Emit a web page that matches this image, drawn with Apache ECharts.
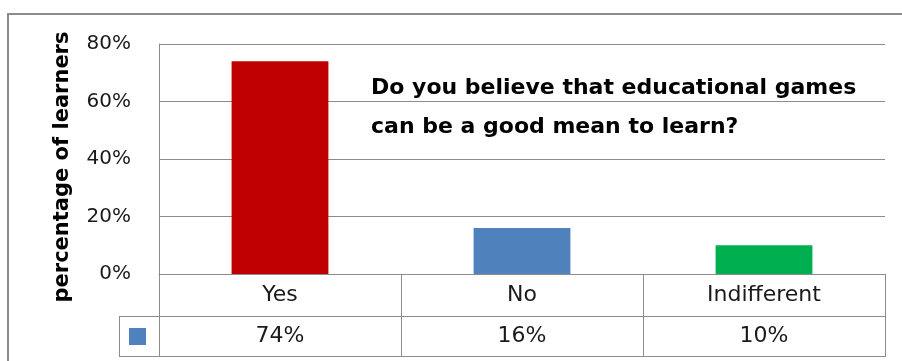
<!DOCTYPE html>
<html><head><meta charset="utf-8">
<script src="https://cdn.jsdelivr.net/npm/echarts@6/dist/echarts.min.js"></script>
<style>html,body{margin:0;padding:0;background:#fff}#c{width:902px;height:361px}</style>
</head><body><div id="c"></div>
<script>
const categories = ['Yes', 'No', 'Indifferent'];
const values = [0.74, 0.16, 0.10];
const barColors = ['#C00000', '#4F81BD', '#00B050'];
const yTickMin = 0, yTickMax = 0.8, yTickStep = 0.2;
const seriesName = 'learners';
const titleLines = ['Do you believe that educational games', 'can be a good mean to learn?'];
const yAxisName = 'percentage of learners';

const FONT = 'DejaVu Sans';
const LINE = '#8c8c8c';
const pct = v => Math.round(v * 100) + '%';
const chart = echarts.init(document.getElementById('c'), null, {renderer: 'canvas'});
const option = {
  animation: false,
  backgroundColor: '#fff',
  title: {
    text: titleLines.join('\n'), left: 371, top: 69, padding: 0,
    textStyle: {fontFamily: FONT, fontWeight: 'bold', fontSize: 22, color: '#000', lineHeight: 39}
  },
  legend: {
    data: [seriesName], left: 129, top: 328, icon: 'rect', itemWidth: 17, itemHeight: 17,
    formatter: () => '', itemGap: 0, padding: 0, selectedMode: false
  },
  grid: {left: 159, right: 17, top: 44, bottom: 87, containLabel: false},
  xAxis: [{
    type: 'category', data: categories, position: 'bottom',
    axisLine: {show: true, lineStyle: {color: LINE, width: 1}},
    axisTick: {show: true, length: 83, interval: 0, lineStyle: {color: LINE}},
    axisLabel: {fontFamily: FONT, fontSize: 22, color: '#1a1a1a', margin: 10}
  }, {
    type: 'category', data: values.map(pct), position: 'bottom', offset: 42,
    axisLine: {show: false}, axisTick: {show: false},
    axisLabel: {fontFamily: FONT, fontSize: 22, color: '#1a1a1a', margin: 9}
  }],
  yAxis: {
    type: 'value', min: yTickMin, max: yTickMax, interval: yTickStep,
    name: yAxisName, nameLocation: 'middle', nameRotate: 90, nameGap: 86,
    nameTextStyle: {fontFamily: FONT, fontWeight: 'bold', fontSize: 21, color: '#000', padding: [0, 16, 0, 0]},
    axisLine: {show: true, lineStyle: {color: LINE}},
    axisTick: {show: false},
    axisLabel: {fontFamily: FONT, fontSize: 20, color: '#1a1a1a', margin: 28, formatter: pct},
    splitLine: {lineStyle: {color: LINE, width: 1}}
  },
  series: [{
    name: seriesName, type: 'bar', xAxisIndex: 0, barWidth: '40%',
    itemStyle: {color: '#4F81BD'},
    data: values.map((v, i) => ({value: v, itemStyle: {color: barColors[i]}}))
  }],
  graphic: [
    {type: 'rect', shape: {x: 8, y: 14, width: 900, height: 360}, style: {fill: 'none', stroke: LINE, lineWidth: 2}, silent: true},
    {type: 'line', shape: {x1: 119, y1: 316.5, x2: 885, y2: 316.5}, style: {stroke: LINE, lineWidth: 1}},
    {type: 'line', shape: {x1: 119, y1: 356.5, x2: 885, y2: 356.5}, style: {stroke: LINE, lineWidth: 1}},
    {type: 'line', shape: {x1: 119.5, y1: 316, x2: 119.5, y2: 357}, style: {stroke: LINE, lineWidth: 1}}
  ]
};
chart.setOption(option);
</script>
</body></html>
